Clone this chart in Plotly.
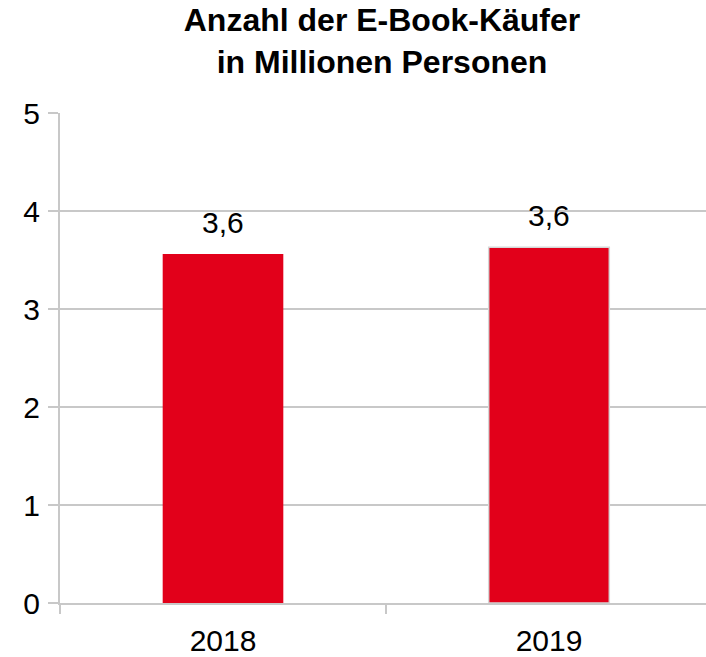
import plotly.graph_objects as go

years = ["2018", "2019"]
buyers = [3.56, 3.63]
value_labels = ["3,6", "3,6"]
y_ticks = [0, 1, 2, 3, 4, 5]

BAR = "#E2001A"
GRID = "#c8c8c8"
FONT = "Liberation Sans, Arial, sans-serif"

W, H = 706, 657

fig = go.Figure()
fig.add_trace(go.Bar(
    x=years, y=buyers,
    marker=dict(color=BAR, line=dict(color=["rgba(0,0,0,0)", "#d6d6d6"], width=1.5)),
    width=0.37,
    hoverinfo="skip",
))

for i, (v, lab) in enumerate(zip(buyers, value_labels)):
    fig.add_annotation(x=i, y=v, text=lab, showarrow=False, yanchor="bottom",
                       yshift=13, font=dict(family=FONT, size=30, color="#000"))

fig.update_layout(
    width=W, height=H,
    margin=dict(l=60, r=0, t=113, b=52),
    paper_bgcolor="white", plot_bgcolor="white",
    showlegend=False,
    title=dict(
        text="<b>Anzahl der E-Book-Käufer<br>in Millionen Personen</b>",
        x=382 / W, xref="container", xanchor="center",
        y=1 - 31 / H, yref="container", yanchor="middle",
        font=dict(family=FONT, size=32, color="#000"),
    ),
    font=dict(family=FONT, size=30, color="#000"),
)

fig.update_xaxes(
    type="category", range=[-0.5, 1.4816],
    showline=True, linecolor=GRID, linewidth=2,
    ticks="outside", tickson="boundaries", ticklen=9, tickcolor=GRID, tickwidth=2,
    showgrid=False, ticklabelstandoff=10,
    tickfont=dict(family=FONT, size=30, color="#000"),
)
fig.update_yaxes(
    range=[0, 5], tickvals=y_ticks,
    showline=True, linecolor=GRID, linewidth=2,
    ticks="outside", ticklen=10, tickcolor=GRID, tickwidth=2,
    showgrid=True, gridcolor=GRID, gridwidth=2,
    zeroline=False, ticklabelstandoff=2,
    tickfont=dict(family=FONT, size=30, color="#000"),
)

fig.write_html(
    "out.html",
    config={"displayModeBar": False},
    post_script="document.body.style.margin='0';document.body.style.overflow='hidden';",
)
